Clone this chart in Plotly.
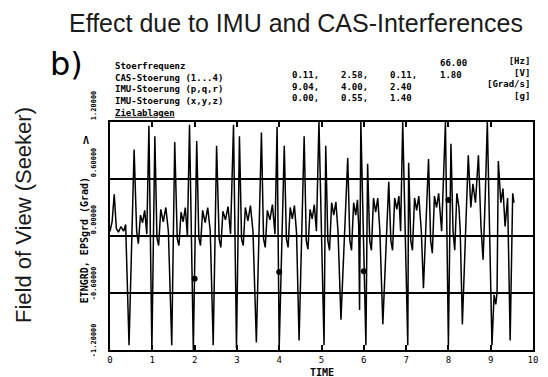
import plotly.graph_objects as go

# ---- data ----
time = [
    0.00, 0.05, 0.10, 0.15, 0.20, 0.26, 0.32, 0.37, 0.45, 0.57, 0.63, 0.67, 0.72, 0.77, 0.82, 0.87, 0.92, 0.99,
    1.06, 1.11, 1.15, 1.20, 1.26, 1.32, 1.38, 1.46, 1.53, 1.59, 1.63, 1.68, 1.73, 1.78, 1.83, 1.88, 1.97,
    2.05, 2.10, 2.14, 2.19, 2.25, 2.31, 2.37, 2.44, 2.52, 2.58, 2.62, 2.67, 2.73, 2.79, 2.85, 2.92, 2.99,
    3.06, 3.11, 3.15, 3.20, 3.26, 3.32, 3.38, 3.46, 3.58, 3.63, 3.67, 3.72, 3.78, 3.84, 3.90, 3.95, 4.00,
    4.12, 4.17, 4.21, 4.26, 4.31, 4.36, 4.41, 4.47, 4.59, 4.64, 4.68, 4.73, 4.78, 4.83, 4.88, 4.94, 5.06,
    5.10, 5.15, 5.19, 5.24, 5.29, 5.34, 5.39, 5.46, 5.62, 5.67, 5.71, 5.76, 5.81, 5.85, 5.88, 5.90, 5.93, 6.05,
    6.09, 6.14, 6.18, 6.23, 6.28, 6.33, 6.38, 6.45, 6.59, 6.64, 6.68, 6.73, 6.78, 6.83, 6.87, 6.92, 7.04,
    7.06, 7.11, 7.15, 7.20, 7.25, 7.30, 7.36, 7.41, 7.53, 7.58, 7.62, 7.67, 7.72, 7.77, 7.84, 7.93, 8.00,
    8.06, 8.11, 8.15, 8.20, 8.25, 8.28, 8.33, 8.47, 8.53, 8.58, 8.64, 8.71, 8.77, 8.82, 8.87, 8.92, 9.03,
    9.08, 9.12, 9.15, 9.18, 9.24, 9.29, 9.34, 9.40, 9.46, 9.52, 9.55,
]
eps_grad = [
    0.05, 0.15, 0.44, 0.08, 0.04, 0.10, 0.05, 0.12, -1.15, 0.91, 0.05, -0.08, 0.22, 0.14, 0.27, 0.02, 1.16, -1.20,
    1.05, -0.02, -0.10, 0.28, 0.15, 0.30, 0.05, -1.15, 0.99, -0.03, -0.10, 0.25, 0.15, 0.30, 0.00, 1.17, -1.20,
    1.00, -0.02, -0.10, 0.27, 0.14, 0.30, 0.05, -1.15, 0.95, -0.03, -0.12, 0.26, 0.17, 0.31, 0.02, 1.17, -1.18,
    1.05, -0.03, -0.10, 0.30, 0.16, 0.32, 0.05, -1.12, 1.09, -0.03, -0.12, 0.27, 0.17, 0.33, 0.02, 1.15, -1.18,
    0.95, -0.03, -0.12, 0.30, 0.18, 0.32, 0.03, -1.10, 1.05, -0.05, -0.14, 0.28, 0.18, 0.33, 0.05, 1.20, -1.15,
    0.95, -0.05, -0.15, 0.35, 0.22, 0.36, 0.05, -0.88, 0.82, -0.05, -0.15, 0.35, 0.22, 0.38, 0.10, -0.78, 1.20, -1.15,
    0.76, -0.05, -0.15, 0.40, 0.25, 0.40, 0.05, -0.93, 0.57, -0.05, -0.15, 0.40, 0.28, 0.42, 0.05, 1.20, -1.15,
    0.77, -0.05, -0.15, 0.40, 0.27, 0.42, 0.05, -0.55, 0.81, -0.05, -0.18, 0.42, 0.30, 0.45, 0.05, 1.20, -1.15,
    0.97, 0.05, -0.15, 0.45, 0.30, 0.05, -0.93, 0.85, 0.30, 0.55, 0.35, 0.85, 0.10, -0.25, 0.40, 1.20, -1.15,
    -0.62, -0.72, -0.60, 0.79, 0.35, 0.50, 0.10, 0.40, -1.10, 0.45, 0.35,
]
mark_t = [2.0, 4.0, 6.0, 8.0]
mark_v = [-0.45, -0.38, -0.37, 0.38]

x_ticks = [0, 1, 2, 3, 4, 5, 6, 7, 8, 9, 10]
y_ticks = [-1.2, -0.6, 0.0, 0.6, 1.2]
y_tick_text = ["-1.20000", "-0.60000", "0.00000", "0.60000", "1.20000"]

hdr_labels = ["Stoerfrequenz", "CAS-Stoerung (1...4)", "IMU-Stoerung (p,q,r)",
              "IMU-Stoerung (x,y,z)", "<u>Zielablagen</u>"]
hdr_col1 = ["0.11,", "9.04,", "0.00,"]
hdr_col2 = ["2.58,", "4.00,", "0.55,"]
hdr_col3 = ["0.11,", "2.40", "1.40"]
hdr_col4 = ["66.00", "1.80"]
hdr_units = ["[Hz]", "[V]", "[Grad/s]", "[g]"]

# ---- layout geometry ----
W, H = 548, 377
L, R, T, B = 110, 10, 122, 27
PW, PH = W - L - R, H - T - B


def pxx(x):
    return (x - L) / PW


def pxy(y):
    return (H - B - y) / PH


MONO = "DejaVu Sans Mono"
HF = 9


def block(lines, x, y_top, xanchor="left", align="left"):
    return dict(text="<br>".join("<b>" + s + "</b>" for s in lines),
                x=pxx(x), y=pxy(y_top), xref="paper", yref="paper",
                xanchor=xanchor, yanchor="top", align=align, showarrow=False,
                font=dict(family=MONO, size=HF, color="black"))


fig = go.Figure()
fig.add_trace(go.Scatter(x=time, y=eps_grad, mode="lines",
                         line=dict(color="black", width=1.5), showlegend=False))
fig.add_trace(go.Scatter(x=mark_t, y=mark_v, mode="markers",
                         marker=dict(color="black", size=6, symbol="circle"), showlegend=False))

ann = []
# title
ann.append(dict(text="Effect due to IMU and CAS-Interferences", x=pxx(298), y=pxy(23),
                xref="paper", yref="paper", xanchor="center", yanchor="middle", showarrow=False,
                font=dict(family="Liberation Sans", size=25, color="#1a1a1a")))
ann.append(dict(text="b)", x=pxx(66), y=pxy(64), xref="paper", yref="paper",
                xanchor="center", yanchor="middle", showarrow=False,
                font=dict(family="DejaVu Sans", size=32, color="black")))
ann.append(dict(text="Field of View (Seeker)", x=pxx(22), y=pxy(215), xref="paper", yref="paper",
                xanchor="center", yanchor="middle", showarrow=False, textangle=-90,
                font=dict(family="Liberation Sans", size=22, color="#1a1a1a")))
# header block
ann.append(block(hdr_labels, 113, 59))
ann.append(block(hdr_col1, 292, 68))
ann.append(block(hdr_col2, 342, 68))
ann.append(block(hdr_col3, 391, 68))
ann.append(block(hdr_col4, 442, 56))
ann.append(block(hdr_units, 537, 54, xanchor="right", align="right"))
# rotated y tick labels
for v, txt in zip(y_ticks, y_tick_text):
    ann.append(dict(text="<b>" + txt + "</b>", x=pxx(94), y=v, xref="paper", yref="y",
                    xanchor="center", yanchor="bottom", yshift=(-9 if v < 0 else 0),
                    showarrow=False, textangle=-90,
                    font=dict(family=MONO, size=7, color="black")))
# y axis title
ann.append(dict(text="<b>ETNGRD, EPSgrd (Grad)</b>", x=pxx(84), y=pxy(240), xref="paper", yref="paper",
                xanchor="center", yanchor="middle", showarrow=False, textangle=-90,
                font=dict(family=MONO, size=10, color="black")))
ann.append(dict(text="<b>Λ</b>", x=pxx(86), y=pxy(140), xref="paper", yref="paper",
                xanchor="center", yanchor="middle", showarrow=False,
                font=dict(family=MONO, size=10, color="black")))
# x axis title
ann.append(dict(text="<b>TIME</b>", x=pxx(325), y=pxy(372), xref="paper", yref="paper",
                xanchor="center", yanchor="middle", showarrow=False,
                font=dict(family=MONO, size=10, color="black")))

fig.update_layout(
    width=W, height=H,
    margin=dict(l=L, r=R, t=T, b=B, pad=0),
    paper_bgcolor="white", plot_bgcolor="white",
    annotations=ann,
    xaxis=dict(range=[0, 10], tickvals=x_ticks, ticktext=[str(v) for v in x_ticks],
               ticks="inside", ticklen=5, tickwidth=1.5, tickcolor="black",
               showline=True, linecolor="black", linewidth=2, mirror="ticks",
               showgrid=False, zeroline=False,
               tickfont=dict(family=MONO, size=9, color="black")),
    yaxis=dict(range=[-1.2, 1.2], tickvals=y_ticks, showticklabels=False,
               ticks="inside", ticklen=4, tickcolor="black",
               showline=True, linecolor="black", linewidth=2, mirror=True,
               showgrid=True, gridcolor="black", gridwidth=1.8, zeroline=False),
)

fig.write_html("out.html")
